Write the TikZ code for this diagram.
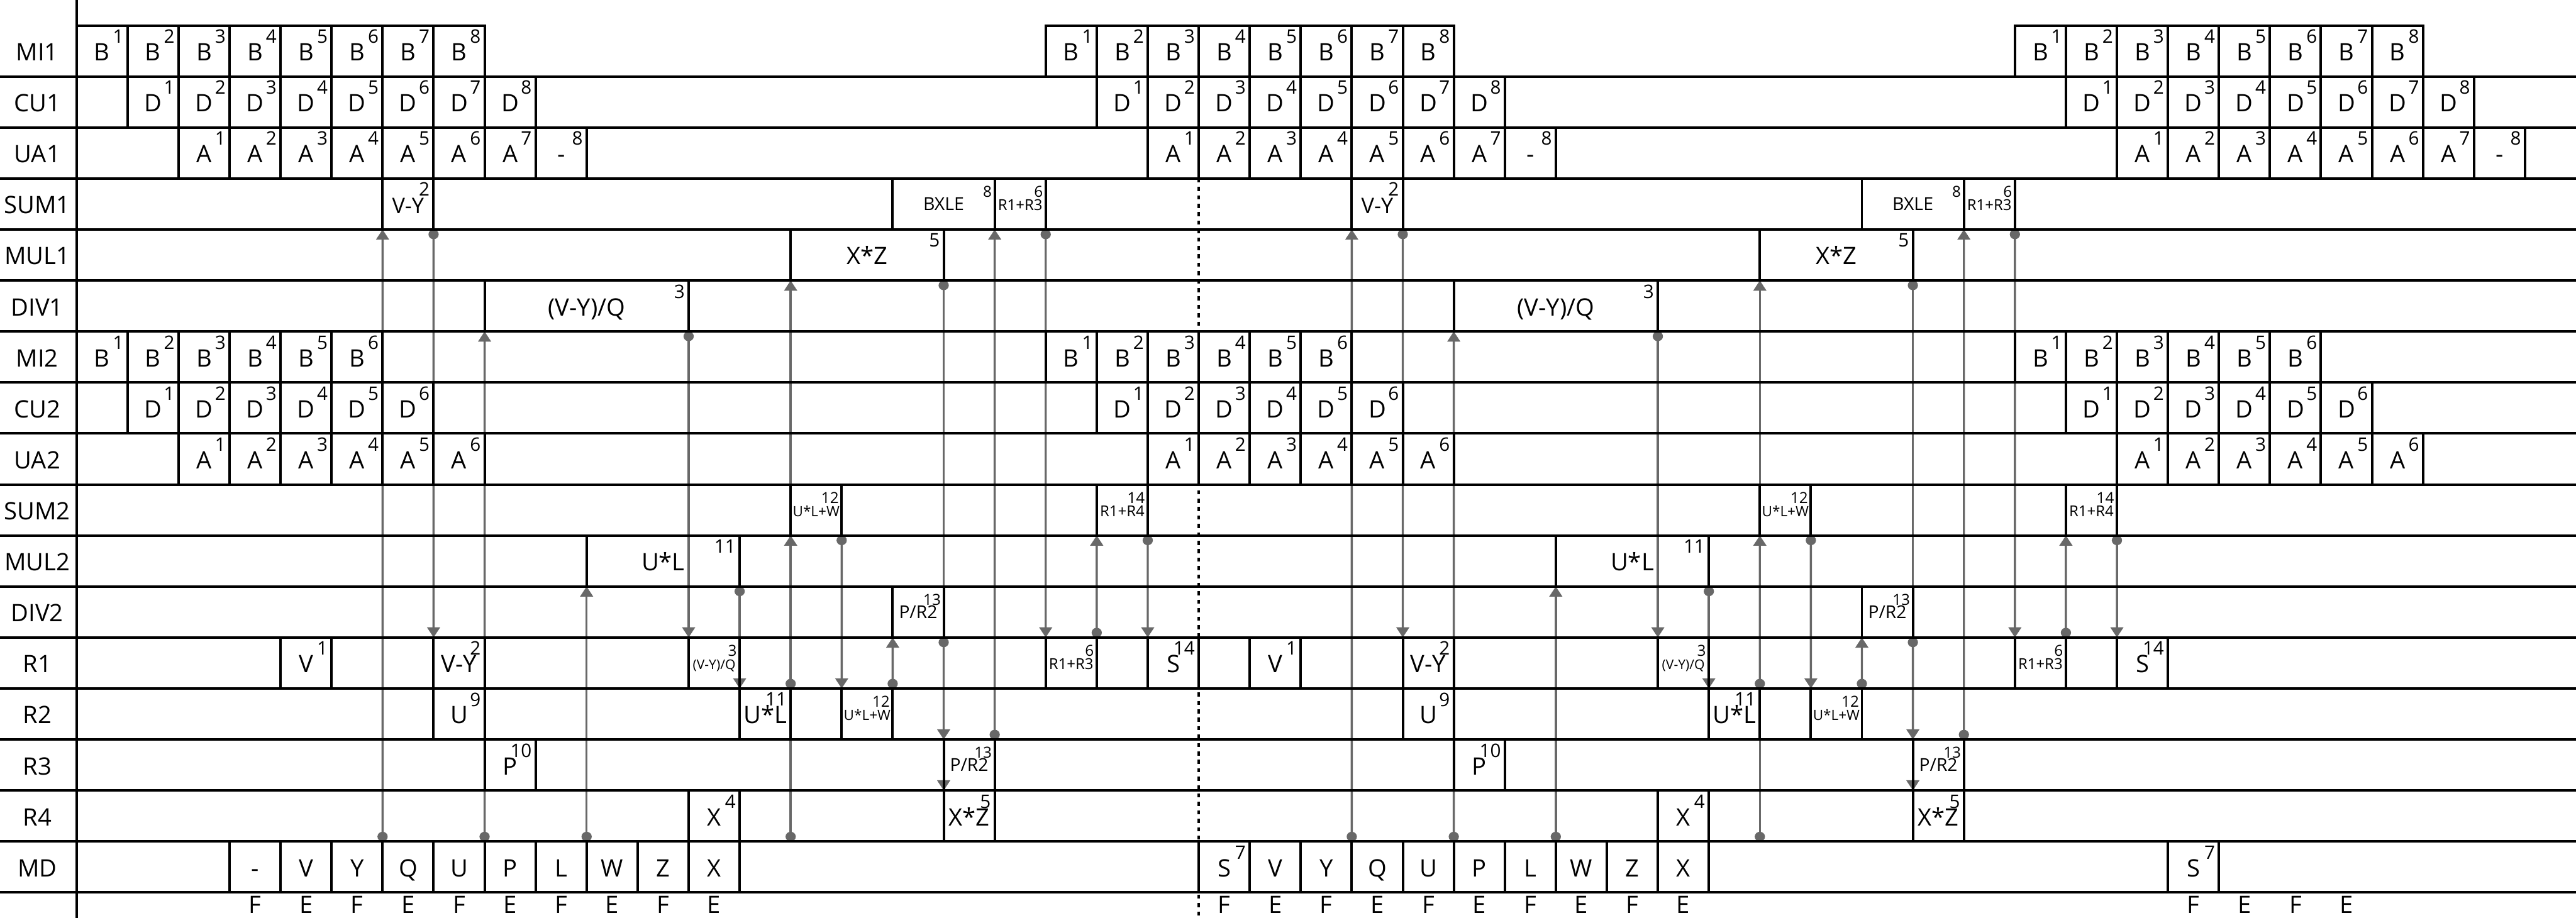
\documentclass[tikz,border=0pt]{standalone}
\usepackage{fontspec}
\setmainfont{Open Sans}
\usetikzlibrary{arrows.meta,backgrounds}

\definecolor{linkgray}{RGB}{104,104,104}
\newcommand{\cellfont}{\fontsize{13.4}{16}\selectfont}
\newcommand{\supfont}{\fontsize{10.4}{12}\selectfont}
\newcommand{\numfont}{\fontsize{8.5}{10}\selectfont}
\newcommand{\vyfont}{\fontsize{12}{14}\selectfont}
\newcommand{\opfont}[1]{\fontsize{#1}{#1}\selectfont}

\tikzset{
  cellbox/.style={draw,line width=1.4pt,inner sep=0pt,outer sep=0pt,
    minimum height=1cm,text height=0.38cm,text depth=0pt,font=\cellfont},
  supnum/.style={anchor=north east,inner sep=0pt,font=\supfont},
  opnum/.style={anchor=north east,inner sep=0pt,font=\numfont},
  optext/.style={anchor=base,inner sep=0pt},
  rowlab/.style={inner sep=0pt,text height=0.38cm,text depth=0pt,font=\cellfont},
  botlab/.style={anchor=base,inner sep=0pt,font=\cellfont},
  rule/.style={line width=1.4pt},
  sepline/.style={line width=1.3pt,dash pattern=on 2.3pt off 2.4pt},
  link/.style={linkgray,line width=1.2pt,
    {Circle[length=0.19cm,width=0.2cm]}-{Triangle[length=0.2cm,width=0.25cm]}}
}

% cell with text and index: [style]{name}{col}{row}{width}{text}{index}
\newcommand{\cellslot}[7][]{%
  \node[cellbox,minimum width=#5cm,#1] (#2) at ({1.5+#3+#5/2},{17-#4}) {#6};
  \node[supnum] (#2-s) at ([xshift=-0.07cm,yshift=-0.075cm]#2.north east) {#7};}
% cell without index: {name}{col}{row}{text}
\newcommand{\plaincell}[4]{%
  \node[cellbox,minimum width=1cm] (#1) at ({2+#2},{17-#3}) {#4};}
% small operation cell: [text style]{name}{col}{row}{width}{text}{index}
\newcommand{\opcell}[7][]{%
  \node[cellbox,minimum width=#5cm] (#2) at ({1.5+#3+#5/2},{17-#4}) {};
  \node[optext,#1] (#2-t) at ([yshift=-0.625cm]#2.north) {#6};
  \node[opnum] (#2-s) at ([xshift=-0.05cm,yshift=-0.145cm]#2.north east) {#7};}

\begin{document}
\begin{tikzpicture}
\useasboundingbox (0,0) rectangle (50.5,18);
% righe e asse dei tempi
\foreach \b in {1,...,17}{\draw[rule] (0,{17.5-\b}) -- (50.5,{17.5-\b});}
\draw[rule] (1.5,0) -- (1.5,18);
% nomi delle unita
\foreach \t [count=\r from 0] in {MI1,CU1,UA1,SUM1,MUL1,DIV1,MI2,CU2,UA2,SUM2,MUL2,DIV2,R1,R2,R3,R4,MD}{
  \node[rowlab] (lab\r) at (0.73,{17-\r}) {\t};}
% prelievo, decodifica, indirizzi
\foreach \o [count=\i] in {0,19,38}{
  \foreach \k in {1,...,8}{
    \cellslot{mi1b\i-\k}{\o+\k-1}{0}{1}{B}{\k}
    \cellslot{cu1d\i-\k}{\o+\k}{1}{1}{D}{\k}
  }
  \foreach \k in {1,...,7}{\cellslot{ua1a\i-\k}{\o+\k+1}{2}{1}{A}{\k}}
  \cellslot{ua1a\i-8}{\o+9}{2}{1}{-}{8}
  \foreach \k in {1,...,6}{
    \cellslot{mi2b\i-\k}{\o+\k-1}{6}{1}{B}{\k}
    \cellslot{cu2d\i-\k}{\o+\k}{7}{1}{D}{\k}
    \cellslot{ua2a\i-\k}{\o+\k+1}{8}{1}{A}{\k}
  }
}
% unita operative e registri
\foreach \o [count=\i] in {0,19}{
  \cellslot[font=\vyfont]{sum1vy\i}{\o+6}{3}{1}{V-Y}{2}
  \opcell[font=\opfont{10}]{sum1bx\i}{\o+16}{3}{2}{BXLE}{8}
  \opcell[font=\opfont{8.4}]{sum1rr\i}{\o+18}{3}{1}{R1+R3}{6}
  \cellslot{mul1xz\i}{\o+14}{4}{3}{X*Z}{5}
  \cellslot{div1q\i}{\o+8}{5}{4}{(V-Y)/Q}{3}
  \opcell[font=\opfont{7.9}]{sum2ulw\i}{\o+14}{9}{1}{U*L+W}{12}
  \opcell[font=\opfont{8.4}]{sum2rr\i}{\o+20}{9}{1}{R1+R4}{14}
  \cellslot{mul2ul\i}{\o+10}{10}{3}{U*L}{11}
  \opcell[font=\opfont{9.9}]{div2pr\i}{\o+16}{11}{1}{P/R2}{13}
  \cellslot{r1v\i}{\o+4}{12}{1}{V}{1}
  \cellslot{r1vy\i}{\o+7}{12}{1}{V-Y}{2}
  \opcell[font=\opfont{7.4}]{r1vyq\i}{\o+12}{12}{1}{(V-Y)/Q}{3}
  \opcell[font=\opfont{8.4}]{r1rr\i}{\o+19}{12}{1}{R1+R3}{6}
  \cellslot{r1s\i}{\o+21}{12}{1}{S}{14}
  \cellslot{r2u\i}{\o+7}{13}{1}{U}{9}
  \cellslot{r2ul\i}{\o+13}{13}{1}{U*L}{11}
  \opcell[font=\opfont{7.9}]{r2ulw\i}{\o+15}{13}{1}{U*L+W}{12}
  \cellslot{r3p\i}{\o+8}{14}{1}{P}{10}
  \opcell[font=\opfont{9.9}]{r3pr\i}{\o+17}{14}{1}{P/R2}{13}
  \cellslot{r4x\i}{\o+12}{15}{1}{X}{4}
  \cellslot{r4xz\i}{\o+17}{15}{1}{X*Z}{5}
  % memoria dati
  \foreach \t [count=\k] in {V,Y,Q,U,P,L,W,Z,X}{\plaincell{md\i-\k}{\o+3+\k}{16}{\t}}
  \foreach \t [count=\k from 0] in {F,E,F,E,F,E,F,E,F,E}{
    \node[botlab] (fe\i-\k) at ({5+\o+\k},0.09) {\t};}
}
\plaincell{md1-0}{3}{16}{-}
\cellslot{md2-0}{22}{16}{1}{S}{7}
\cellslot{md3-0}{41}{16}{1}{S}{7}
\foreach \t [count=\k from 0] in {F,E,F,E}{
  \node[botlab] (fe3-\k) at ({43+\k},0.09) {\t};}
% collegamenti
\begin{scope}[on background layer]
  \coordinate (sepend) at (ua1a2-2.south west |- 0,0);
  \draw[sepline] (ua1a2-2.south west) -- (sepend);
  \foreach \i in {1,2}{
    \coordinate (tap\i) at (mul1xz\i.south west |- md\i-9.north);
    \draw[link] (md\i-2.north east) -- (sum1vy\i.south west);
    \draw[link] (sum1vy\i.south east) -- (r1vy\i.north west);
    \draw[link] (md\i-4.north east) -- (div1q\i.south west);
    \draw[link] (md\i-6.north east) -- (mul2ul\i.south west);
    \draw[link] (div1q\i.south east) -- (r1vyq\i.north west);
    \draw[link] (mul2ul\i.south east) -- (r2ul\i.north west);
    \draw[link] (tap\i) -- (mul1xz\i.south west);
    \draw[link] (r2ul\i.north east) -- (sum2ulw\i.south west);
    \draw[link] (sum2ulw\i.south east) -- (r2ulw\i.north west);
    \draw[link] (r2ulw\i.north east) -- (div2pr\i.south west);
    \draw[link] (mul1xz\i.south east) -- (r4xz\i.north west);
    \draw[link] (div2pr\i.south east) -- (r3pr\i.north west);
    \draw[link] (r3pr\i.north east) -- (sum1rr\i.south west);
    \draw[link] (sum1rr\i.south east) -- (r1rr\i.north west);
    \draw[link] (r1rr\i.north east) -- (sum2rr\i.south west);
    \draw[link] (sum2rr\i.south east) -- (r1s\i.north west);
  }
\end{scope}
\end{tikzpicture}
\end{document}
